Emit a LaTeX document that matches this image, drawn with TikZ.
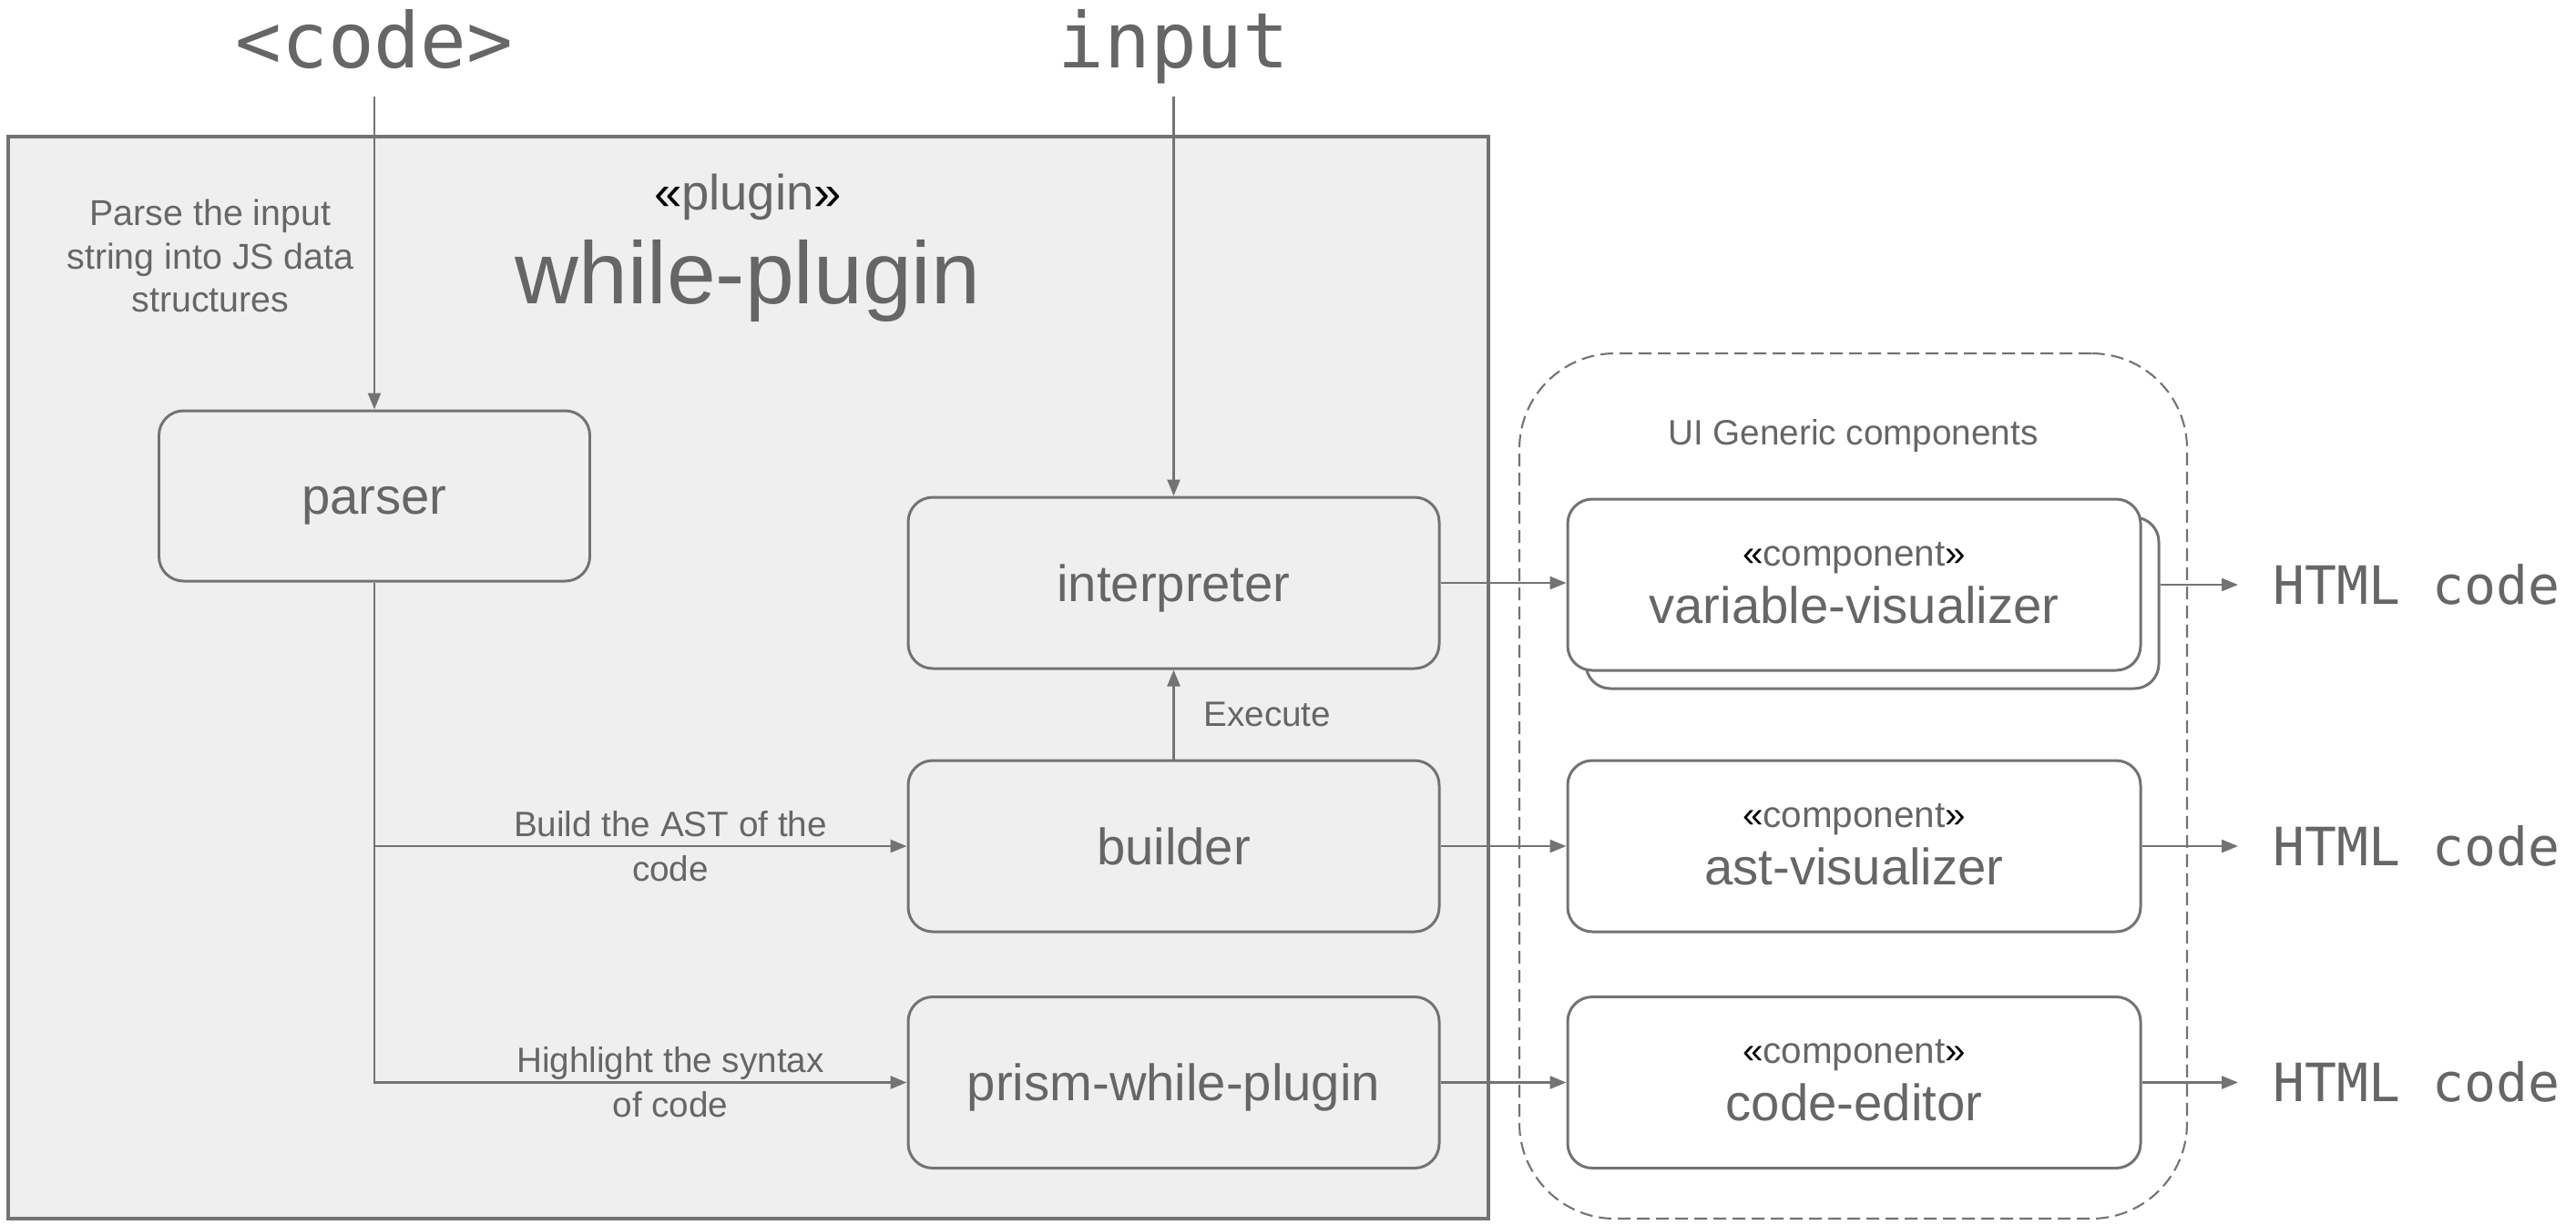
\documentclass[tikz,border=0pt]{standalone}
\usepackage{fontspec}
\setmainfont{Liberation Sans}
\setmonofont{DejaVu Sans Mono}
\usetikzlibrary{arrows.meta}

\definecolor{linegray}{HTML}{737373}
\definecolor{textgray}{HTML}{666666}
\definecolor{pluginfill}{HTML}{EFEFEF}

\tikzset{
  arr/.style={draw=linegray, line width=0.75pt, -{Triangle[length=0.18cm,width=0.14cm]}},
  module/.style={draw=linegray, line width=0.85pt, fill=pluginfill, rounded corners=0.27cm,
    minimum width=5.83cm, minimum height=1.88cm, text=textgray,
    font=\fontsize{16}{19}\selectfont, text height=11.5pt, text depth=0pt},
  compbox/.style={module, fill=white, minimum width=6.29cm},
  note/.style={text=textgray, font=\fontsize{11}{14}\selectfont, align=center},
  mono/.style={text=textgray, font=\ttfamily\fontsize{24}{28}\selectfont},
  html/.style={text=textgray, font=\ttfamily\fontsize{16.5}{20}\selectfont,
    text height=12pt, text depth=0pt, inner xsep=0.38cm},
}

\begin{document}
\begin{tikzpicture}
\useasboundingbox (0,0) rectangle (28.28,-13.44);
% plugin frame
\node[draw=linegray, line width=0.9pt, fill=pluginfill, minimum width=16.25cm, minimum height=11.88cm, inner sep=0pt] (plugin) at (8.215,-7.44) {};
\node[text=textgray, anchor=base, font=\fontsize{15.5}{18}\selectfont] (pluginst) at (8.21,-2.30) {{\color{black}«}plugin{\color{black}»}};
\node[text=textgray, anchor=base, font=\fontsize{27.5}{32}\selectfont] (pluginname) at (8.21,-3.33) {while-plugin};
\node[note, font=\fontsize{11.2}{13.4}\selectfont] (parsenote) at (2.31,-2.81) {Parse the input\\string into JS data\\structures};

% UI components frame
\node[draw=linegray, line width=0.6pt, dash pattern=on 0.14cm off 0.07cm, rounded corners=1.05cm, minimum width=7.33cm, minimum height=9.50cm] (ui) at (20.345,-8.63) {};
\node[note, anchor=base] (uititle) at (20.345,-4.88) {UI Generic components};

% inputs
\node[mono, anchor=base, text depth=0pt, inner ysep=0.31cm] (code) at (4.11,-0.74) {<code>};
\node[mono, anchor=base, text depth=0pt, inner ysep=0.31cm] (input) at (12.885,-0.74) {input};

% modules of the plugin
\node[module, minimum width=4.73cm, minimum height=1.87cm] (parser) at (4.11,-5.445) {parser};
\node[module] (interp) at (12.885,-6.40) {interpreter};
\node[module] (builder) at (12.885,-9.29) {builder};
\node[module] (prism) at (12.885,-11.885) {prism-while-plugin};

% generic components
\node[compbox] (varback) at (20.555,-6.62) {};
\foreach \name/\y/\txt in {var/-6.42/variable-visualizer, ast/-9.29/ast-visualizer, editor/-11.885/code-editor} {
  \node[compbox] (\name) at (20.355,\y) {};
  \node[text=textgray, anchor=base, font=\fontsize{11.5}{14}\selectfont] (\name-st) at ([yshift=0.21cm]\name.center) {{\color{black}«}component{\color{black}»}};
  \node[text=textgray, anchor=base, font=\fontsize{16}{19}\selectfont] (\name-lbl) at ([yshift=-0.42cm]\name.center) {\txt};
  \node[html, anchor=west] (html-\name) at (24.57,\y) {HTML code};
}

% connectors
\draw[arr] (code.south) -- (parser.north);
\draw[arr] (input.south) -- (interp.north);
\draw[arr] (builder.north) -- node[note, right=0.2cm] (exec) {Execute} (interp.south);
\draw[arr] (parser.south) |- node[note, pos=0.778] (astnote) {Build the AST of the\\code} (builder.west);
\draw[arr] (parser.south) |- node[note, pos=0.778] (hlnote) {Highlight the syntax\\of code} (prism.west);
\draw[arr] (interp.east) -- (interp.east -| var.west);
\draw[arr] (builder.east) -- (ast.west);
\draw[arr] (prism.east) -- (editor.west);
\draw[arr] (varback.east |- var.east) -- (html-var.west);
\draw[arr] (ast.east) -- (html-ast.west);
\draw[arr] (editor.east) -- (html-editor.west);
\end{tikzpicture}
\end{document}
